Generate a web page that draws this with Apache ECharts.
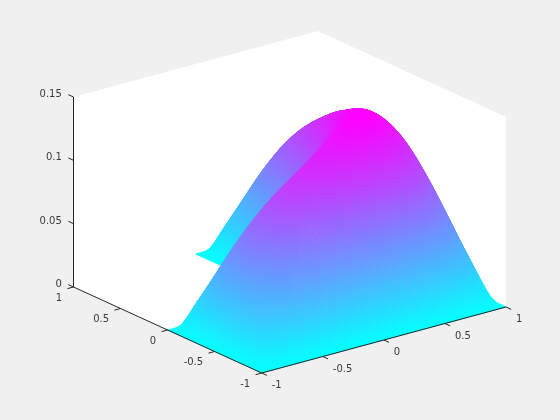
<!DOCTYPE html>
<html><head><meta charset="utf-8"><style>html,body{margin:0;padding:0;background:#f0f0f0}#c{width:560px;height:420px}</style></head>
<body><div id="c"></div>
<script src="https://cdn.jsdelivr.net/npm/echarts@6/dist/echarts.min.js"></script>
<script>
// Grid coordinates of the surface
const xValues = [-1,-0.875,-0.75,-0.625,-0.5,-0.375,-0.25,-0.125,0,0.125,0.25,0.375,0.5,0.625,0.75,0.875,1];
// Surface heights, one row per y; null = outside the L-shaped domain
const _ = null;
const zY_p1000 = [_,_,_,_,_,_,_,_,0,0,0,0,0,0,0,0,0];
const zY_p0875 = [_,_,_,_,_,_,_,_,0,.0202,.0318,.0380,.0400,.0379,.0317,.0201,0];
const zY_p0750 = [_,_,_,_,_,_,_,_,0,.0324,.0531,.0645,.0682,.0644,.0529,.0323,0];
const zY_p0625 = [_,_,_,_,_,_,_,_,0,.0406,.0677,.0831,.0880,.0828,.0672,.0402,0];
const zY_p0500 = [_,_,_,_,_,_,_,_,0,.0464,.0782,.0966,.1023,.0959,.0772,.0457,0];
const zY_p0375 = [_,_,_,_,_,_,_,_,0,.0512,.0866,.1070,.1130,.1054,.0844,.0495,0];
const zY_p0250 = [_,_,_,_,_,_,_,_,0,.0562,.0946,.1159,.1216,.1128,.0897,.0523,0];
const zY_p0125 = [_,_,_,_,_,_,_,_,0,.0640,.1041,.1248,.1291,.1186,.0937,.0543,0];
const zY_0000  = [0,0,0,0,0,0,0,0,0,.0814,.1171,.1330,.1345,.1231,.0965,.0557,0];
const zY_m0125 = [0,.0202,.0324,.0406,.0464,.0512,.0562,.0640,.0814,.1097,.1312,.1408,.1390,.1258,.0980,.0563,0];
const zY_m0250 = [0,.0318,.0531,.0677,.0782,.0866,.0946,.1041,.1171,.1312,.1420,.1460,.1408,.1260,.0975,.0559,0];
const zY_m0375 = [0,.0380,.0645,.0831,.0966,.1070,.1159,.1248,.1330,.1408,.1460,.1458,.1385,.1226,.0945,.0542,0];
const zY_m0500 = [0,.0400,.0682,.0880,.1023,.1130,.1216,.1291,.1345,.1390,.1408,.1385,.1303,.1142,.0881,.0507,0];
const zY_m0625 = [0,.0379,.0644,.0828,.0959,.1054,.1128,.1186,.1231,.1258,.1260,.1226,.1142,.0996,.0772,.0448,0];
const zY_m0750 = [0,.0317,.0529,.0672,.0772,.0844,.0897,.0937,.0965,.0980,.0975,.0945,.0881,.0772,.0604,.0358,0];
const zY_m0875 = [0,.0201,.0323,.0402,.0457,.0495,.0523,.0543,.0557,.0563,.0559,.0542,.0507,.0448,.0358,.0220,0];
const zY_m1000 = [0,0,0,0,0,0,0,0,0,0,0,0,0,0,0,0,0];
const zRows = [zY_m1000,zY_m0875,zY_m0750,zY_m0625,zY_m0500,zY_m0375,zY_m0250,zY_m0125,zY_0000,
               zY_p0125,zY_p0250,zY_p0375,zY_p0500,zY_p0625,zY_p0750,zY_p0875,zY_p1000];
const yValues = [-1,-0.875,-0.75,-0.625,-0.5,-0.375,-0.25,-0.125,0,0.125,0.25,0.375,0.5,0.625,0.75,0.875,1];
// Axes
const xTicks = [-1,-0.5,0,0.5,1], xTickLabels = ['-1','-0.5','0','0.5','1'];
const yTicks = [-1,-0.5,0,0.5,1], yTickLabels = ['-1','-0.5','0','0.5','1'];
const zTicks = [0,0.05,0.1,0.15], zTickLabels = ['0','0.05','0.1','0.15'];
const zMax = 0.15, colorMax = 0.147;

// Orthographic view (az -37.5, el 30) fitted to the picture
const view = {cx:289.75, cy:297, xx:122.15, xy:-33, yx:-94.1, yy:-43, zy:-190/0.15};
const proj = (x,y,z)=>[view.cx+view.xx*x+view.yx*y, view.cy+view.xy*x+view.yy*y+view.zy*z];
const TEXT='#3a3a3a', LINE='#262626';
const FONT='10px "DejaVu Sans"';

const Z=(i,j)=>{ if(j<0||j>=zRows.length||i<0||i>=xValues.length) return 0; const v=zRows[j][i]; return v==null?0:v; };
const cr=(p0,p1,p2,p3,t)=>0.5*(2*p1+(p2-p0)*t+(2*p0-5*p1+4*p2-p3)*t*t+(3*p1-p0-3*p2+p3)*t*t*t);
function surf(i,j,s,t){ // smooth shading between the grid nodes of one cell
  const r=[];
  for(let k=-1;k<=2;k++) r.push(cr(Z(i-1,j+k),Z(i,j+k),Z(i+1,j+k),Z(i+2,j+k),s));
  return Math.max(0,cr(r[0],r[1],r[2],r[3],t));
}
const SUB=6, facets=[];
for(let j=0;j<yValues.length-1;j++) for(let i=0;i<xValues.length-1;i++){
  if(zRows[j][i]==null||zRows[j][i+1]==null||zRows[j+1][i]==null||zRows[j+1][i+1]==null) continue;
  const dx=xValues[i+1]-xValues[i], dy=yValues[j+1]-yValues[j];
  for(let a=0;a<SUB;a++) for(let b=0;b<SUB;b++){
    const s0=a/SUB,s1=(a+1)/SUB,t0=b/SUB,t1=(b+1)/SUB;
    facets.push([xValues[i]+s0*dx,xValues[i]+s1*dx,yValues[j]+t0*dy,yValues[j]+t1*dy,
      surf(i,j,s0,t0),surf(i,j,s1,t0),surf(i,j,s1,t1),surf(i,j,s0,t1)]);
  }
}
const depth=f=>0.609*(f[0]+f[1])+0.793*(f[2]+f[3]);
facets.sort((p,q)=>depth(q)-depth(p));

const lines=[
  [-1,1,0,-1,1,zMax],[-1,1,0,-1,-1,0],[-1,-1,0,1,-1,0],
  ...xTicks.map(v=>[v,-1,0,v,-1.055,0]),
  ...yTicks.map(v=>[-1,v,0,-1.05,v,0]),
  ...zTicks.map(v=>[-1,1,v,-1,1.055,v])
];
const labels=[
  ...xTicks.map((v,k)=>[v,-1,0,10,12.5,xTickLabels[k],'left']),
  ...yTicks.map((v,k)=>[-1,v,0,-11.5,11,yTickLabels[k],'right']),
  ...zTicks.map((v,k)=>[-1,1,v,-11.7,-2.5,zTickLabels[k],'right'])
];
const coolColor=z=>{const t=Math.max(0,Math.min(1,z/colorMax));return `rgb(${Math.round(255*t)},${Math.round(255*(1-t))},255)`;};
// Fill of one facet: a linear gradient that follows its height in screen space
function facetFill(P,zs){
  const avg=(zs[0]+zs[1]+zs[2]+zs[3])/4, flat=coolColor(avg);
  const d1=[P[2][0]-P[0][0],P[2][1]-P[0][1]], d2=[P[3][0]-P[1][0],P[3][1]-P[1][1]];
  const dz1=zs[2]-zs[0], dz2=zs[3]-zs[1], det=d1[0]*d2[1]-d1[1]*d2[0];
  if(Math.abs(det)<1) return flat;
  const gx=(dz1*d2[1]-dz2*d1[1])/det, gy=(d1[0]*dz2-d2[0]*dz1)/det, g2=gx*gx+gy*gy;
  if(g2<1e-14) return flat;
  const lo=Math.min(...zs), hi=Math.max(...zs);
  if(hi-lo<1e-6) return flat;
  const cx=(P[0][0]+P[1][0]+P[2][0]+P[3][0])/4, cy=(P[0][1]+P[1][1]+P[2][1]+P[3][1])/4;
  return {type:'linear',global:true,
    x:cx+gx/g2*(lo-avg),y:cy+gy/g2*(lo-avg),x2:cx+gx/g2*(hi-avg),y2:cy+gy/g2*(hi-avg),
    colorStops:[{offset:0,color:coolColor(lo)},{offset:1,color:coolColor(hi)}]};
}

const chart=echarts.init(document.getElementById('c'),null,{renderer:'canvas'});
chart.setOption({
  animation:false, backgroundColor:'#f0f0f0',
  grid:{left:0,right:0,top:0,bottom:0},
  xAxis:{type:'value',min:0,max:560,show:false},
  yAxis:{type:'value',min:0,max:420,inverse:true,show:false},
  series:[
    {type:'custom',z:1,silent:true,clip:false,data:[[0]],encode:{x:0,y:0},
     renderItem(p,api){
       const pts=[[-1,1,zMax],[1,1,zMax],[1,-1,zMax],[1,-1,0],[-1,-1,0],[-1,1,0]].map(c=>api.coord(proj(c[0],c[1],c[2])));
       return {type:'polygon',shape:{points:pts},style:{fill:'#ffffff'}};
     }},
    {type:'custom',z:2,silent:true,clip:false,progressive:0,data:facets,encode:{x:0,y:2},
     renderItem(p,api){
       const x0=api.value(0),x1=api.value(1),y0=api.value(2),y1=api.value(3);
       const zs=[api.value(4),api.value(5),api.value(6),api.value(7)];
       const pts=[proj(x0,y0,zs[0]),proj(x1,y0,zs[1]),proj(x1,y1,zs[2]),proj(x0,y1,zs[3])].map(q=>api.coord(q));
       const fill=facetFill(pts,zs);
       return {type:'polygon',shape:{points:pts},style:{fill:fill,stroke:fill,lineWidth:0.7}};
     }},
    {type:'custom',z:3,silent:true,clip:false,data:lines,encode:{x:0,y:1},
     renderItem(p,api){
       const a=api.coord(proj(api.value(0),api.value(1),api.value(2)));
       const b=api.coord(proj(api.value(3),api.value(4),api.value(5)));
       return {type:'line',shape:{x1:a[0],y1:a[1],x2:b[0],y2:b[1]},style:{stroke:LINE,lineWidth:1}};
     }},
    {type:'custom',z:4,silent:true,clip:false,data:labels.map((l,k)=>[l[0],l[1],l[2],k]),encode:{x:0,y:1},
     renderItem(p,api){
       const l=labels[api.value(3)];
       const q=api.coord(proj(l[0],l[1],l[2]));
       return {type:'text',style:{x:q[0]+l[3],y:q[1]+l[4],text:l[5],font:FONT,fill:TEXT,textAlign:l[6],textVerticalAlign:'middle'}};
     }}
  ]
});
</script></body></html>
